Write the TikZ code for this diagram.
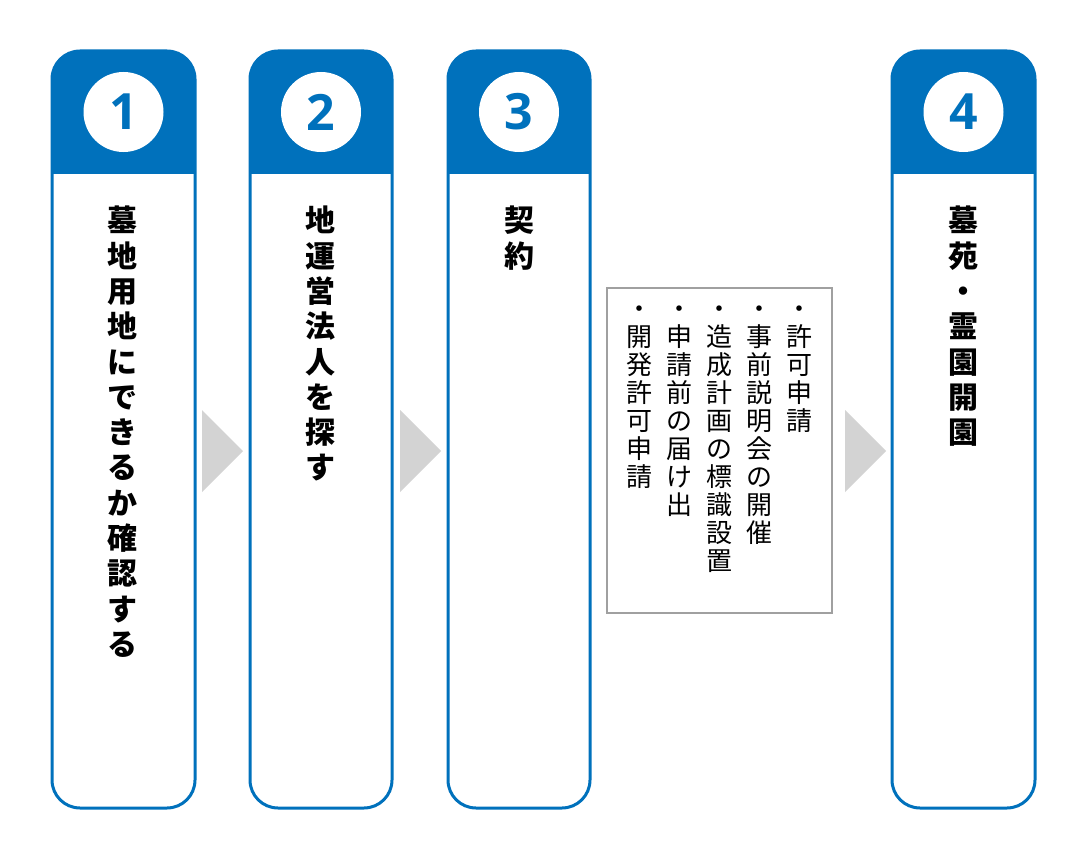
\documentclass[tikz,border=0pt]{standalone}
\usepackage{fontspec}
\newfontfamily\jp{Noto Sans CJK JP}
\newfontfamily\numfont{Open Sans}
\definecolor{cblue}{HTML}{0071BC}
\definecolor{arrowgray}{HTML}{D3D3D3}
\definecolor{boxgray}{HTML}{A0A0A0}
\begin{document}
\begin{tikzpicture}[x=1pt,y=-1pt,
  cardtxt/.style={inner sep=0pt, align=center, anchor=north, font=\jp\bfseries\fontsize{30}{35.3}\selectfont},
  listtxt/.style={inner sep=0pt, align=center, anchor=north, font=\jp\fontsize{26}{28}\selectfont},
  numcircle/.style={circle, fill=white, minimum size=80pt, inner sep=0pt, text=cblue, font=\numfont\bfseries\fontsize{50}{50}\selectfont},
  tri/.style={fill=arrowgray}
]
\useasboundingbox (0,0) rectangle (1088,859);
\fill[white] (0,0) rectangle (1088,859);
% cards
\foreach \xa/\xb/\n in {52/195/1, 250/392/2, 448/590/3, 892/1035/4}{
  \begin{scope}
    \clip[rounded corners=28pt] (\xa,51) rectangle (\xb,808);
    \fill[cblue] (\xa,51) rectangle (\xb,174);
  \end{scope}
  \draw[cblue, line width=3pt, rounded corners=28pt] (\xa,51) rectangle (\xb,808);
}
\node[numcircle] (c1) at (123.5,112) {1};
\node[numcircle] (c2) at (321,112) {2};
\node[numcircle] (c3) at (519,112) {3};
\node[numcircle] (c4) at (963.5,112) {4};
% card texts
\node[cardtxt] (t1) at (122,206) {墓\\地\\用\\地\\に\\で\\き\\る\\か\\確\\認\\す\\る};
\node[cardtxt] (t2) at (320,206) {地\\運\\営\\法\\人\\を\\探\\す};
\node[cardtxt] (t3) at (519,206) {契\\約};
\node[cardtxt] (t4) at (963,206) {墓\\苑\\・\\霊\\園\\開\\園};
% arrows
\fill[tri] (202,410) -- (243,451) -- (202,492) -- cycle;
\fill[tri] (400,410) -- (441,451) -- (400,492) -- cycle;
\fill[tri] (845,410) -- (886,451) -- (845,492) -- cycle;
% list box
\draw[boxgray, line width=2.5pt] (607,288) rectangle (832,613);
\node[listtxt] (l1) at (799,306) {・\\許\\可\\申\\請};
\node[listtxt] (l2) at (759,306) {・\\事\\前\\説\\明\\会\\の\\開\\催};
\node[listtxt] (l3) at (719,306) {・\\造\\成\\計\\画\\の\\標\\識\\設\\置};
\node[listtxt] (l4) at (679,306) {・\\申\\請\\前\\の\\届\\け\\出};
\node[listtxt] (l5) at (639,306) {・\\開\\発\\許\\可\\申\\請};
\end{tikzpicture}
\end{document}
